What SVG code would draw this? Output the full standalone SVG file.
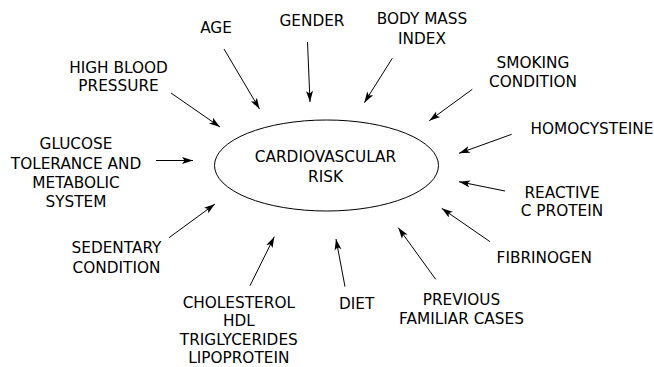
<svg xmlns="http://www.w3.org/2000/svg" width="654" height="367" viewBox="0 0 654 367">
<style>
text{font-family:"DejaVu Sans",sans-serif;font-size:15.3px;fill:#000;text-anchor:middle}
.c line{stroke:#000;stroke-width:1;marker-end:url(#ah)}
</style>
<defs>
<marker id="ah" markerUnits="userSpaceOnUse" markerWidth="12" markerHeight="8" refX="11" refY="3.5" orient="auto" overflow="visible">
<path d="M0,0 L11,3.5 L0,7 L2.5,3.5 Z" fill="#000"/>
</marker>
</defs>
<rect width="654" height="367" fill="#fff"/>
<g id="center">
<ellipse cx="326.5" cy="165.5" rx="112" ry="45.5" fill="none" stroke="#000" stroke-width="1"/>
<text x="325.5" y="162.3">CARDIOVASCULAR</text>
<text x="325.5" y="181.7">RISK</text>
</g>
<g id="age"><text x="216" y="33.3">AGE</text></g>
<g id="gender"><text x="312" y="25.7">GENDER</text></g>
<g id="bmi"><text x="422" y="24.3">BODY MASS</text><text x="422" y="44">INDEX</text></g>
<g id="hbp"><text x="118.5" y="72.7">HIGH BLOOD</text><text x="118.5" y="90.7">PRESSURE</text></g>
<g id="smoking"><text x="533" y="68">SMOKING</text><text x="533" y="86.7">CONDITION</text></g>
<g id="homocysteine"><text x="592" y="134">HOMOCYSTEINE</text></g>
<g id="glucose"><text x="76" y="149.3">GLUCOSE</text><text x="76" y="168.7">TOLERANCE AND</text><text x="76" y="187.7">METABOLIC</text><text x="76" y="206.7">SYSTEM</text></g>
<g id="reactive"><text x="562" y="197.7">REACTIVE</text><text x="562" y="216">C PROTEIN</text></g>
<g id="sedentary"><text x="116.5" y="253.3">SEDENTARY</text><text x="116.5" y="272.7">CONDITION</text></g>
<g id="fibrinogen"><text x="544.3" y="263.3">FIBRINOGEN</text></g>
<g id="cholesterol"><text x="238.8" y="307.8">CHOLESTEROL</text><text x="238.8" y="326.2">HDL</text><text x="238.8" y="344.6">TRIGLYCERIDES</text><text x="238.8" y="363">LIPOPROTEIN</text></g>
<g id="diet"><text x="356.7" y="309">DIET</text></g>
<g id="previous"><text x="461.5" y="305">PREVIOUS</text><text x="461.5" y="324">FAMILIAR CASES</text></g>
<g id="connectors" class="c">
<line x1="224" y1="49" x2="259.5" y2="109"/>
<line x1="307.5" y1="42" x2="310" y2="102"/>
<line x1="392.3" y1="58.3" x2="364.3" y2="102.7"/>
<line x1="171" y1="93" x2="220" y2="127"/>
<line x1="472.3" y1="89.3" x2="429.3" y2="120.7"/>
<line x1="511.7" y1="134.3" x2="459" y2="153.3"/>
<line x1="156" y1="160.5" x2="193" y2="160.5"/>
<line x1="505" y1="191" x2="459" y2="181.7"/>
<line x1="169" y1="237.7" x2="215" y2="204"/>
<line x1="490" y1="241.7" x2="441.7" y2="208.3"/>
<line x1="250" y1="285.7" x2="274.3" y2="236.7"/>
<line x1="345" y1="286.7" x2="336" y2="239"/>
<line x1="435.7" y1="279.3" x2="398.3" y2="227.7"/>
</g>
</svg>
